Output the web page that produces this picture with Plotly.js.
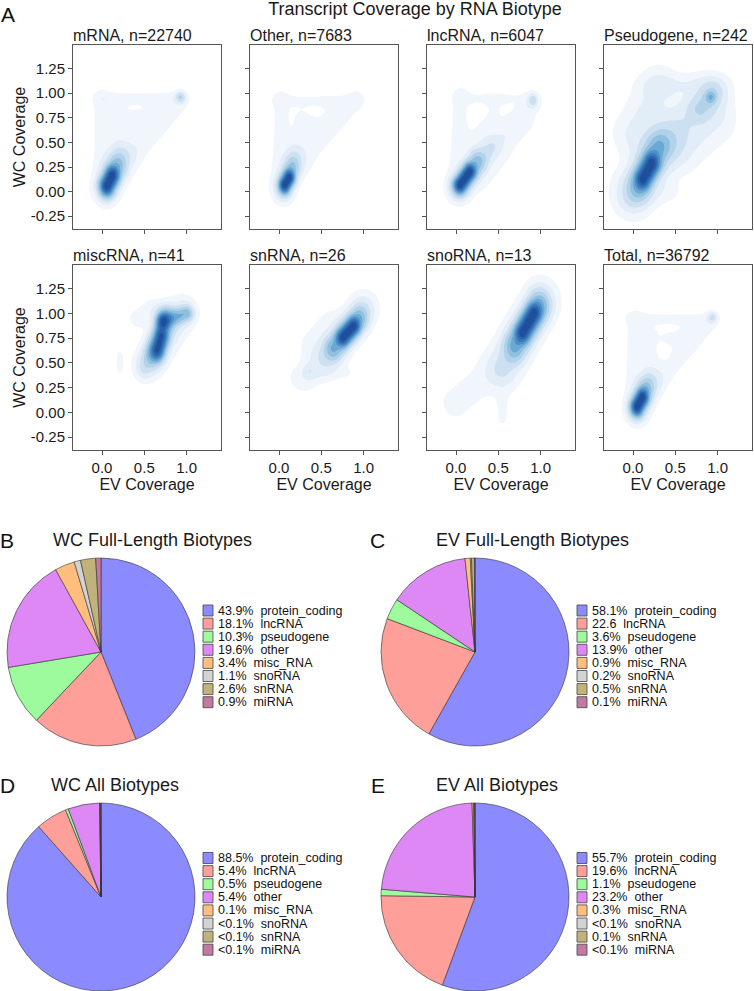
<!DOCTYPE html>
<html><head><meta charset="utf-8">
<script src="https://cdn.plot.ly/plotly-3.0.1.min.js"></script>
<style>html,body{margin:0;padding:0;background:#fff}</style>
</head><body><div id="chart" style="width:754px;height:991px"></div>
<script>
const W = 754, H = 991;

// ---- Panel A data ----
const panelNames = ["mRNA", "Other", "lncRNA", "Pseudogene", "miscRNA", "snRNA", "snoRNA", "Total"];
const panelCounts = [22740, 7683, 6047, 242, 41, 26, 13, 36792];
const yTickVals = [-0.25, 0, 0.25, 0.5, 0.75, 1, 1.25];
const yTickText = ["-0.25", "0.00", "0.25", "0.50", "0.75", "1.00", "1.25"];
const xTickVals = [0, 0.5, 1];
const xTickText = ["0.0", "0.5", "1.0"];

// density ridges:
// [EV start, WC start, EV end, WC end, EV spread, WC spread, weight]
const mrnaRidges = [
  [0.06, 0.06, 0.12, 0.16, 0.05, 0.06, 1.0], [0.06, 0.06, 0.18, 0.26, 0.07, 0.09, 0.3],
  [0.05, 0.05, 0.25, 0.38, 0.10, 0.10, 0.08], [0.00, 0.30, 0.00, 0.90, 0.07, 0.10, 0.03],
  [0.05, 0.95, 0.85, 0.95, 0.10, 0.04, 0.025], [0.30, 0.30, 0.90, 0.90, 0.08, 0.08, 0.03],
  [0.20, 0.50, 0.20, 0.80, 0.10, 0.10, 0.018], [0.45, 0.75, 0.60, 0.80, 0.10, 0.10, 0.018],
  [0.93, 0.96, 0.93, 0.96, 0.035, 0.035, 0.18]
];
const otherRidges = [
  [0.07, 0.07, 0.12, 0.14, 0.04, 0.05, 1.0], [0.06, 0.06, 0.16, 0.25, 0.06, 0.08, 0.25],
  [0.05, 0.05, 0.20, 0.36, 0.09, 0.10, 0.06], [0.00, 0.30, 0.02, 0.90, 0.07, 0.10, 0.02],
  [0.05, 0.93, 0.80, 0.93, 0.10, 0.05, 0.015], [0.30, 0.30, 0.90, 0.90, 0.08, 0.08, 0.018],
  [0.20, 0.45, 0.25, 0.75, 0.10, 0.10, 0.014], [0.45, 0.70, 0.60, 0.80, 0.10, 0.10, 0.012],
  [0.92, 0.94, 0.92, 0.94, 0.05, 0.05, 0.02]
];
const lncRidges = [
  [0.05, 0.07, 0.16, 0.20, 0.045, 0.05, 1.0], [0.04, 0.05, 0.25, 0.30, 0.07, 0.075, 0.3],
  [0.05, 0.05, 0.40, 0.45, 0.09, 0.09, 0.08], [0.40, 0.40, 0.90, 0.90, 0.07, 0.07, 0.04],
  [0.91, 0.93, 0.91, 0.93, 0.035, 0.04, 0.14], [0.00, 0.30, 0.05, 0.95, 0.08, 0.10, 0.02],
  [0.10, 0.95, 0.80, 0.95, 0.10, 0.05, 0.015], [0.25, 0.55, 0.45, 0.80, 0.12, 0.12, 0.015],
  [0.35, 0.10, 0.90, 0.65, 0.10, 0.10, 0.012]
];
const pseudoRidges = [
  [0.12, 0.13, 0.22, 0.28, 0.06, 0.07, 1.0], [0.06, 0.05, 0.30, 0.45, 0.09, 0.10, 0.3],
  [0.00, 0.00, 0.40, 0.50, 0.14, 0.15, 0.12], [0.92, 0.96, 0.92, 0.96, 0.04, 0.04, 0.28],
  [0.80, 0.85, 0.95, 1.00, 0.10, 0.09, 0.13], [0.30, 0.45, 0.85, 0.90, 0.16, 0.14, 0.09],
  [0.00, 0.60, 0.30, 1.05, 0.14, 0.14, 0.06], [0.30, 1.08, 0.90, 1.10, 0.15, 0.07, 0.04],
  [0.60, 0.40, 1.00, 0.70, 0.14, 0.14, 0.04], [0.00, -0.10, 0.40, 0.00, 0.10, 0.07, 0.03]
];
const miscRidges = [
  [0.72, 0.92, 0.72, 0.92, 0.05, 0.055, 0.85], [0.66, 0.64, 0.70, 0.76, 0.05, 0.065, 1.0],
  [0.62, 0.60, 0.76, 0.95, 0.07, 0.08, 0.45], [0.75, 0.93, 1.00, 1.00, 0.05, 0.05, 0.4],
  [0.55, 0.50, 0.95, 1.00, 0.10, 0.10, 0.12], [0.50, 0.45, 0.60, 0.60, 0.06, 0.07, 0.1],
  [0.21, 0.45, 0.21, 0.56, 0.04, 0.06, 0.025], [0.45, 0.95, 0.60, 1.05, 0.08, 0.06, 0.05]
];
const snRidges = [
  [0.76, 0.76, 0.88, 0.87, 0.05, 0.055, 1.0], [0.65, 0.65, 0.95, 0.95, 0.07, 0.08, 0.35],
  [0.55, 0.55, 1.00, 1.05, 0.10, 0.10, 0.1], [0.36, 0.42, 0.36, 0.42, 0.05, 0.05, 0.06],
  [0.30, 0.35, 0.60, 0.60, 0.12, 0.10, 0.035], [0.40, 0.70, 0.60, 0.90, 0.12, 0.10, 0.025],
  [0.40, 0.38, 0.75, 0.40, 0.10, 0.05, 0.02]
];
const snoRidges = [
  [0.79, 0.81, 0.92, 1.00, 0.055, 0.065, 1.0], [0.70, 0.68, 0.98, 1.06, 0.08, 0.10, 0.45],
  [0.55, 0.45, 1.00, 1.12, 0.12, 0.13, 0.13], [0.00, 0.10, 0.55, 0.50, 0.13, 0.12, 0.03],
  [0.55, -0.05, 0.55, 0.15, 0.05, 0.06, 0.025]
];
const totalRidges = [
  [0.05, 0.06, 0.11, 0.15, 0.045, 0.055, 1.0], [0.05, 0.05, 0.16, 0.24, 0.065, 0.08, 0.28],
  [0.05, 0.05, 0.22, 0.33, 0.09, 0.10, 0.07], [0.00, 0.30, 0.02, 0.90, 0.07, 0.10, 0.025],
  [0.05, 0.95, 0.85, 0.95, 0.10, 0.04, 0.02], [0.30, 0.30, 0.90, 0.90, 0.07, 0.07, 0.025],
  [0.20, 0.50, 0.20, 0.80, 0.10, 0.10, 0.015], [0.45, 0.75, 0.60, 0.80, 0.10, 0.10, 0.015],
  [0.94, 0.96, 0.94, 0.96, 0.035, 0.035, 0.12]
];
const panelRidges = [mrnaRidges, otherRidges, lncRidges, pseudoRidges, miscRidges, snRidges, snoRidges, totalRidges];

// ---- Pie data ----
const bioNames = ["protein_coding", "lncRNA", "pseudogene", "other", "misc_RNA", "snoRNA", "snRNA", "miRNA"];
const bioColors = ["#8b8bff", "#ff9f9a", "#9dfa9d", "#dd88f5", "#ffbe7d", "#d3d3d3", "#bfb27a", "#c27ba0"];
const wcFullValues = [43.9, 18.1, 10.3, 19.6, 3.4, 1.1, 2.6, 0.9];
const wcFullLabels = ["43.9%", "18.1%", "10.3%", "19.6%", "3.4%", "1.1%", "2.6%", "0.9%"];
const evFullValues = [58.1, 22.6, 3.6, 13.9, 0.9, 0.2, 0.5, 0.1];
const evFullLabels = ["58.1%", "22.6", "3.6%", "13.9%", "0.9%", "0.2%", "0.5%", "0.1%"];
const wcAllValues = [88.5, 5.4, 0.5, 5.4, 0.1, 0.05, 0.05, 0.05];
const wcAllLabels = ["88.5%", "5.4%", "0.5%", "5.4%", "0.1%", "<0.1%", "<0.1%", "<0.1%"];
const evAllValues = [55.7, 19.6, 1.1, 23.2, 0.3, 0.05, 0.1, 0.05];
const evAllLabels = ["55.7%", "19.6%", "1.1%", "23.2%", "0.3%", "<0.1%", "0.1%", "<0.1%"];
const pieTitles = ["WC Full-Length Biotypes", "EV Full-Length Biotypes", "WC All Biotypes", "EV All Biotypes"];

// ---- layout helpers ----
const FONT = "Liberation Sans, Arial, Helvetica, sans-serif";
const px = v => v / W;
const py = v => 1 - v / H;
const colX = [[73, 221], [250, 398], [427, 575], [604, 752]];
const rowY = [[45, 229], [265, 450]];
const xMin = -0.343, xMax = 1.407, yMin = -0.38, yMax = 1.49;
const NX = 100, NY = 120;
const bandColors = ["#ffffff", "#f1f6fc", "#e2edf8", "#cde0f1", "#b2d2ea", "#90c0df", "#6ba8d4", "#4d8fc7", "#3877ba", "#2a62ac", "#1f4f9b"];
const colorscale = bandColors.map((c, i) => [i / (bandColors.length - 1), c]);

function densityGrid(ridges) {
  const xs = [], ys = [], z = [];
  for (let i = 0; i < NX; i++) xs.push(xMin + (xMax - xMin) * i / (NX - 1));
  for (let j = 0; j < NY; j++) ys.push(yMin + (yMax - yMin) * j / (NY - 1));
  let mx = 0;
  for (let j = 0; j < NY; j++) {
    const row = [];
    for (let i = 0; i < NX; i++) {
      let s = 0;
      for (const r of ridges) {
        const ax = r[0] / r[4], ay = r[1] / r[5], bx = r[2] / r[4], by = r[3] / r[5];
        const qx = xs[i] / r[4], qy = ys[j] / r[5];
        const vx = bx - ax, vy = by - ay, L = vx * vx + vy * vy;
        let t = L > 0 ? ((qx - ax) * vx + (qy - ay) * vy) / L : 0;
        t = Math.max(0, Math.min(1, t));
        const dx = qx - (ax + t * vx), dy = qy - (ay + t * vy);
        s += r[6] * Math.exp(-0.5 * (dx * dx + dy * dy));
      }
      row.push(s); if (s > mx) mx = s;
    }
    z.push(row);
  }
  return { xs, ys, z: z.map(r => r.map(v => Math.sqrt(v / mx))) };
}

const traces = [];
const layout = {
  width: W, height: H, margin: { l: 0, r: 0, t: 0, b: 0 },
  paper_bgcolor: "#fff", plot_bgcolor: "#fff",
  font: { family: FONT, color: "#1a1a1a", size: 15 },
  showlegend: false,
  title: { text: "Transcript Coverage by RNA Biotype", x: px(415), xanchor: "center", y: py(9), yanchor: "middle", yref: "paper", font: { size: 18, family: FONT } },
  annotations: [], shapes: []
};

for (let k = 0; k < 8; k++) {
  const r = Math.floor(k / 4), c = k % 4, n = k + 1;
  const xa = "x" + (k ? n : ""), ya = "y" + (k ? n : "");
  const g = densityGrid(panelRidges[k]);
  traces.push({
    type: "contour", x: g.xs, y: g.ys, z: g.z, xaxis: xa, yaxis: ya,
    showscale: false, hoverinfo: "skip", zmin: 0, zmax: 1,
    contours: { coloring: "fill", start: 0.1, end: 0.915, size: 0.09, showlines: false },
    line: { width: 0, smoothing: 1 }, colorscale: colorscale
  });
  const axCommon = {
    showgrid: false, zeroline: false, showline: true, mirror: true, linecolor: "#555", linewidth: 1,
    ticks: "outside", ticklen: 4, tickcolor: "#555", tickfont: { size: 15, family: FONT, color: "#1a1a1a" }
  };
  layout["xaxis" + (k ? n : "")] = Object.assign({}, axCommon, {
    domain: [px(colX[c][0]), px(colX[c][1])], anchor: ya, range: [xMin, xMax],
    tickmode: "array", tickvals: xTickVals, ticktext: xTickText, showticklabels: r === 1,
    title: r === 1 ? { text: "EV Coverage", font: { size: 16, family: FONT }, standoff: 3 } : undefined
  });
  layout["yaxis" + (k ? n : "")] = Object.assign({}, axCommon, {
    domain: [py(rowY[r][1]), py(rowY[r][0])], anchor: xa, range: [yMin, yMax],
    tickmode: "array", tickvals: yTickVals, ticktext: yTickText, showticklabels: c === 0,
    title: c === 0 ? { text: "WC Coverage", font: { size: 16, family: FONT }, standoff: 1 } : undefined
  });
  layout.annotations.push({
    xref: "paper", yref: "paper", x: px(colX[c][0] - 2), y: py(rowY[r][0] - 10), xanchor: "left", yanchor: "middle",
    text: panelNames[k] + ", n=" + panelCounts[k], showarrow: false, font: { size: 16, family: FONT }
  });
}

// ---- pies ----
const pieSets = [
  { vals: wcFullValues, labs: wcFullLabels, dom: [7, 195, 558, 746], leg: [203, 610.5], title: [152, 540] },
  { vals: evFullValues, labs: evFullLabels, dom: [381, 569, 558, 746], leg: [577, 610.5], title: [532, 540] },
  { vals: wcAllValues, labs: wcAllLabels, dom: [7, 195, 803, 991], leg: [203, 858], title: [115, 785] },
  { vals: evAllValues, labs: evAllLabels, dom: [381, 569, 803, 991], leg: [577, 858], title: [497, 785] }
];
const esc = s => s.replace(/</g, "&lt;");
pieSets.forEach((p, i) => {
  traces.push({
    type: "pie", values: p.vals, labels: bioNames, sort: false, direction: "clockwise", rotation: 0,
    marker: { colors: bioColors, line: { color: "#333", width: 0.6 } },
    textinfo: "none", hoverinfo: "skip", showlegend: false,
    domain: { x: [px(p.dom[0]), px(p.dom[1])], y: [py(p.dom[3]), py(p.dom[2])] }
  });
  layout.annotations.push({
    xref: "paper", yref: "paper", x: px(p.title[0]), y: py(p.title[1]), xanchor: "center", yanchor: "middle",
    text: pieTitles[i], showarrow: false, font: { size: 18, family: FONT }
  });
  const step = 13.1;
  bioNames.forEach((nm, j) => {
    const cy = p.leg[1] + j * step;
    layout.shapes.push({
      type: "rect", xref: "paper", yref: "paper", x0: px(p.leg[0]), x1: px(p.leg[0] + 10),
      y0: py(cy + 5.5), y1: py(cy - 5.5), fillcolor: bioColors[j], line: { color: "#444", width: 0.8 }
    });
    layout.annotations.push({
      xref: "paper", yref: "paper", x: px(p.leg[0] + 14), y: py(cy), xanchor: "left", yanchor: "middle",
      text: esc(p.labs[j]) + "\u00a0 " + nm, showarrow: false, borderpad: 0,
      font: { size: 12.5, family: FONT, color: "#111" }
    });
  });
});

// panel letters
const letters = [["A", 8, 15], ["B", 7, 540], ["C", 377, 540], ["D", 7, 785], ["E", 378, 785]];
letters.forEach(l => layout.annotations.push({
  xref: "paper", yref: "paper", x: px(l[1]), y: py(l[2]), xanchor: "center", yanchor: "middle",
  text: l[0], showarrow: false, font: { size: 21, family: FONT, color: "#111" }
}));

Plotly.newPlot("chart", traces, layout, { staticPlot: true, displayModeBar: false });
</script></body></html>
